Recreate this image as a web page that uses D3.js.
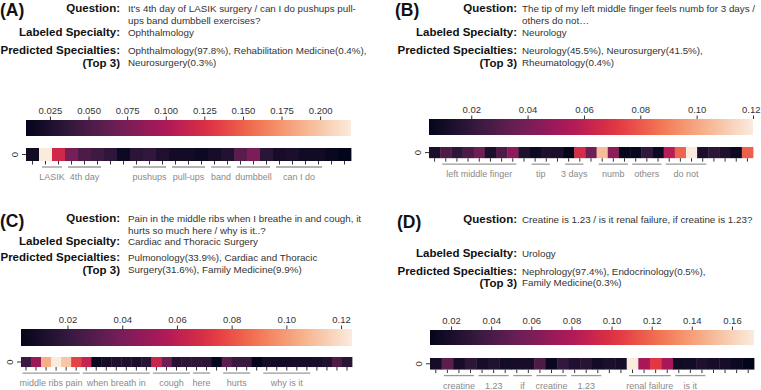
<!DOCTYPE html>
<html>
<head>
<meta charset="utf-8">
<script src="https://cdn.jsdelivr.net/npm/d3@7"></script>
<style>
  body { margin: 0; background: #fff; }
  svg text { font-family: "Liberation Sans", Arial, sans-serif; }
</style>
</head>
<body>
<div id="chart"></div>
<script>
// attention weights per token
let attnA = [0.018, 0.220, 0.119, 0.073, 0.052, 0.043, 0.035, 0.016, 0.033, 0.037, 0.026, 0.020, 0.020,
  0.016, 0.022, 0.028, 0.058, 0.075, 0.033, 0.022, 0.024, 0.018, 0.018, 0.0135, 0.0095];
let attnB = [0.013, 0.028, 0.019, 0.027, 0.037, 0.013, 0.028, 0.046, 0.014, 0.0085, 0.014, 0.013, 0.005,
  0.067, 0.037, 0.106, 0.045, 0.006, 0.007, 0.020, 0.0085, 0.057, 0.083, 0.120, 0.013, 0.019, 0.014,
  0.0085, 0.082];
let attnC = [0.022, 0.050, 0.105, 0.124, 0.112, 0.076, 0.063, 0.0055, 0.010, 0.013, 0.013, 0.011, 0.016,
  0.064, 0.037, 0.015, 0.0175, 0.0175, 0.0175, 0.004, 0.031, 0.021, 0.021, 0.003, 0.010, 0.009, 0.009,
  0.010, 0.010, 0.011, 0.013, 0.027, 0.017];
let attnD = [0.018, 0.048, 0.019, 0.029, 0.019, 0.024, 0.017, 0.019, 0.019, 0.042, 0.0125, 0.031, 0.022,
  0.026, 0.017, 0.021, 0.019, 0.171, 0.077, 0.103, 0.076, 0.016, 0.017, 0.022, 0.019, 0.019, 0.014, 0.0095];

// colorbar ticks
let cbTicksA = [0.025, 0.050, 0.075, 0.100, 0.125, 0.150, 0.175, 0.200];
let cbTicksB = [0.02, 0.04, 0.06, 0.08, 0.10, 0.12];
let cbTicksC = [0.02, 0.04, 0.06, 0.08, 0.10, 0.12];
let cbTicksD = [0.02, 0.04, 0.06, 0.08, 0.10, 0.12, 0.14, 0.16];

// word groups: [label, first token, last token]
let wordsA = [["LASIK", 1, 2], ["4th day", 3, 5], ["pushups", 8, 10], ["pull-ups", 11, 13],
  ["band", 14, 15], ["dumbbell", 16, 18], ["can I do", 19, 22]];
let wordsB = [["left middle finger", 1, 7], ["tip", 9, 10], ["3 days", 12, 13], ["numb", 15, 17],
  ["others", 18, 20], ["do not", 21, 24]];
let wordsC = [["middle ribs pain", 0, 5], ["when breath in", 6, 12], ["cough", 13, 16], ["here", 17, 18],
  ["hurts", 20, 22], ["why is it", 24, 28]];
let wordsD = [["creatine", 1, 3], ["1.23", 4, 6], ["if", 7, 8], ["creatine", 9, 11], ["1.23", 12, 14],
  ["renal failure", 17, 20], ["is it", 21, 23]];

// text blocks
let questionA = ["It's 4th day of LASIK surgery / can I do pushups pull-", "ups band dumbbell exercises?"];
let labeledA = "Ophthalmology";
let predictedA = ["Ophthalmology(97.8%), Rehabilitation Medicine(0.4%),", "Neurosurgery(0.3%)"];
let questionB = ["The tip of my left middle finger feels numb for 3 days /", "others do not\u2026"];
let labeledB = "Neurology";
let predictedB = ["Neurology(45.5%), Neurosurgery(41.5%),", "Rheumatology(0.4%)"];
let questionC = ["Pain in the middle ribs when I breathe in and cough, it", "hurts so much here / why is it..?"];
let labeledC = "Cardiac and Thoracic Surgery";
let predictedC = ["Pulmonology(33.9%), Cardiac and Thoracic", "Surgery(31.6%), Family Medicine(9.9%)"];
let questionD = ["Creatine is 1.23 / is it renal failure, if creatine is 1.23?"];
let labeledD = "Urology";
let predictedD = ["Nephrology(97.4%), Endocrinology(0.5%),", "Family Medicine(0.3%)"];

// seaborn "rocket" approximated from its sampled stops
const rocket = d3.piecewise(d3.interpolateRgb,
  ["#03051a", "#35193e", "#701f57", "#ad1759", "#e13342", "#f37651", "#f6b48f", "#faebdd"]);

const W = 761, H = 390;

const svg = d3.select("#chart").append("svg")
  .attr("width", W)
  .attr("height", H);

const defs = svg.append("defs");

function panel(p) {
  // ---- text block
  let t = svg.append("g");
  t.append("text")
    .attr("x", p.tagX).attr("y", p.tagY)
    .attr("font-size", 17.5).attr("font-weight", "bold").attr("fill", "#111")
    .text(p.tag);

  let rows = [
    { label: "Question:", y: p.rowY[0], lines: p.question },
    { label: "Labeled Specialty:", y: p.rowY[1], lines: [p.labeled] },
    { label: "Predicted Specialties:", y: p.rowY[2], lines: p.predicted }
  ];
  rows.forEach(r => {
    t.append("text")
      .attr("x", p.labelRight).attr("y", r.y)
      .attr("text-anchor", "end")
      .attr("font-size", 11.5).attr("font-weight", "bold").attr("fill", "#111")
      .text(r.label);
    r.lines.forEach((line, i) => {
      t.append("text")
        .attr("x", p.valueX).attr("y", r.y + i * p.lineGap)
        .attr("font-size", 9.8).attr("fill", "#333")
        .text(line);
    });
  });
  t.append("text")
    .attr("x", p.labelRight).attr("y", p.rowY[2] + p.lineGap + 1)
    .attr("text-anchor", "end")
    .attr("font-size", 11.5).attr("font-weight", "bold").attr("fill", "#111")
    .text("(Top 3)");

  // ---- scales
  let n = p.values.length,
    width = p.width,
    cell = width / n,
    extent = d3.extent(p.values);

  let xBand = d3.scaleBand()
    .domain(d3.range(n))
    .range([p.x, p.x + width]);

  let cScale = d3.scaleLinear()
    .domain(extent)
    .range([p.x, p.x + width]);

  // ---- colorbar
  let gid = "grad" + p.tag.replace(/\W/g, "");
  let grad = defs.append("linearGradient").attr("id", gid);
  d3.range(0, 1.0001, 0.05).forEach(s => {
    grad.append("stop")
      .attr("offset", (s * 100) + "%")
      .attr("stop-color", rocket(s));
  });

  svg.append("rect")
    .attr("x", p.x).attr("y", p.cbY)
    .attr("width", width).attr("height", p.cbH)
    .attr("fill", "url(#" + gid + ")");

  let cbAxis = svg.append("g")
    .attr("transform", "translate(0," + p.cbY + ")")
    .call(d3.axisTop(cScale)
      .tickValues(p.ticks)
      .tickFormat(d3.format(p.fmt))
      .tickSize(3.5)
      .tickPadding(2.5));
  cbAxis.select(".domain").remove();
  cbAxis.selectAll("line").attr("stroke", "#333");
  cbAxis.selectAll("text")
    .attr("font-size", 9.5).attr("fill", "#333")
    .style("font-family", "'Liberation Sans', Arial, sans-serif");
  // keep labels near the right edge inside the window
  cbAxis.selectAll(".tick text").each(function () {
    let b = this.getBBox(),
      tx = cScale(d3.select(this.parentNode).datum());
    if (tx + b.x + b.width > W - 1) {
      d3.select(this).attr("x", W - 1 - tx - b.width / 2);
    }
  });

  // ---- heatmap strip
  let colour = d3.scaleSequential(rocket).domain(extent);

  svg.append("g")
    .selectAll("rect")
    .data(p.values)
    .enter()
    .append("rect")
    .attr("x", (d, i) => xBand(i))
    .attr("y", p.stripY)
    .attr("width", xBand.bandwidth() + 0.4)
    .attr("height", cell)
    .attr("fill", d => colour(d));

  let bottom = p.stripY + cell;

  let xAxis = svg.append("g")
    .attr("transform", "translate(0," + bottom + ")")
    .call(d3.axisBottom(xBand).tickFormat("").tickSize(3.5));
  xAxis.select(".domain").remove();
  xAxis.selectAll("line").attr("stroke", "#333");

  let yBand = d3.scaleBand().domain(["0"]).range([p.stripY, bottom]);
  let yAxis = svg.append("g")
    .attr("transform", "translate(" + p.x + ",0)")
    .call(d3.axisLeft(yBand).tickSize(4));
  yAxis.select(".domain").remove();
  yAxis.selectAll("line").attr("stroke", "#333");
  yAxis.selectAll(".tick text")
    .attr("font-size", 9.5).attr("fill", "#333")
    .attr("text-anchor", "middle")
    .attr("x", -11).attr("y", 0).attr("dy", "0.35em")
    .attr("transform", "rotate(-90,-11,0)")
    .style("font-family", "'Liberation Sans', Arial, sans-serif");

  // ---- word groups under the strip
  let centre = i => xBand(i) + xBand.bandwidth() / 2;
  let words = svg.append("g").selectAll("g")
    .data(p.words)
    .enter()
    .append("g");

  words.append("line")
    .attr("x1", d => centre(d[1]) - 3.5)
    .attr("x2", d => centre(d[2]) + 3.5)
    .attr("y1", bottom + 6).attr("y2", bottom + 6)
    .attr("stroke", "#9a9a9a").attr("stroke-width", 1.3);

  words.append("text")
    .attr("x", d => (centre(d[1]) + centre(d[2])) / 2)
    .attr("y", bottom + 19)
    .attr("text-anchor", "middle")
    .attr("font-size", p.wordSize).attr("fill", "#8a8a8a")
    .text(d => d[0]);
}

panel({
  tag: "(A)", tagX: 0, tagY: 16,
  labelRight: 120, valueX: 128, rowY: [12, 36, 54], lineGap: 11.5,
  question: questionA, labeled: labeledA, predicted: predictedA,
  x: 26, width: 325, cbY: 120, cbH: 16, stripY: 148,
  values: attnA, ticks: cbTicksA, fmt: ".3f", words: wordsA, wordSize: 9
});

panel({
  tag: "(B)", tagX: 395, tagY: 16,
  labelRight: 517, valueX: 522, rowY: [12, 36, 54], lineGap: 11.5,
  question: questionB, labeled: labeledB, predicted: predictedB,
  x: 429, width: 324, cbY: 119, cbH: 16, stripY: 147,
  values: attnB, ticks: cbTicksB, fmt: ".2f", words: wordsB, wordSize: 9
});

panel({
  tag: "(C)", tagX: 0, tagY: 227,
  labelRight: 120, valueX: 128, rowY: [222, 245, 261], lineGap: 11.5,
  question: questionC, labeled: labeledC, predicted: predictedC,
  x: 21, width: 331, cbY: 329, cbH: 17, stripY: 357,
  values: attnC, ticks: cbTicksC, fmt: ".2f", words: wordsC, wordSize: 9
});

panel({
  tag: "(D)", tagX: 397, tagY: 228,
  labelRight: 517, valueX: 522, rowY: [223, 257, 275], lineGap: 10.5,
  question: questionD, labeled: labeledD, predicted: predictedD,
  x: 430, width: 324, cbY: 330, cbH: 15, stripY: 358,
  values: attnD, ticks: cbTicksD, fmt: ".2f", words: wordsD, wordSize: 9
});
</script>
</body>
</html>
